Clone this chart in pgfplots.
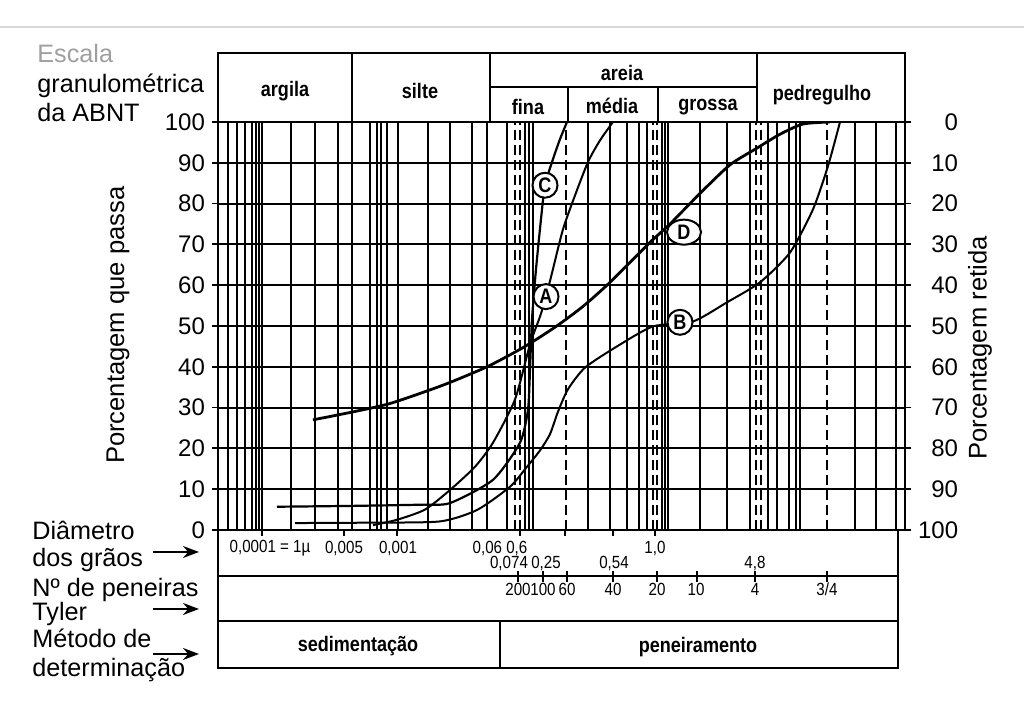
\documentclass[border=0pt]{standalone}
\usepackage{fontspec}
\setmainfont{Liberation Sans}
\newfontfamily\condfont[FakeStretch=0.86]{Liberation Sans}
\usepackage{pgfplots}
\usepackage{pgfplotstable}
\pgfplotsset{compat=1.18}
\usetikzlibrary{shapes.geometric,arrows.meta}

% x = position along the granulometric scale (reference pixel column), y = percent passing
\pgfplotstableread{
x y
373 1.2
397 2.5
425 5
450 9.8
475 15.5
493 21.4
515 32
530 45.5
540 52.3
546 57.2
552 63
563 73.7
575 82
588 90.2
600 95.5
613 100
}\curveA
\pgfplotstableread{
x y
295 1.7
370 1.8
440 2.1
477 4.9
510 10.6
527 15.5
540 19.5
550 23.5
558 29
568 34.5
585 39.8
617 45
653 49.9
693 51.1
727 55.8
760 60.7
790 68
813 78.6
828 89.2
840 100
}\curveB
\pgfplotstableread{
x y
277 5.7
350 5.9
420 6.2
450 6.6
493 12.3
520 21.4
528 29.5
530 39.3
532 51.6
536 63.9
541 76.2
545 84.5
553 90.9
560 95.8
567 100
}\curveC
\pgfplotstableread{
x y
313 27
350 28.8
390 31
443 35.5
487 40
523 44.7
555 49.7
583 54.8
610 60.7
650 70.5
670 75
700 82.5
730 89.5
757 93.6
780 97
803 99.5
830 100
}\curveD

\begin{document}
\begin{tikzpicture}
\useasboundingbox (0pt,0pt) rectangle (512pt,358pt);
\begin{axis}[
  at={(109pt,93pt)}, anchor=south west,
  scale only axis, width=343.5pt, height=204pt,
  xmin=218, xmax=905, ymin=0, ymax=100,
  xtick={228,237,245,252,256,259,262,291,315,338,352,370,377,381,387,398,428,450,472,487,507,525,529,533,588,610,627,639,647,662,665,668,700,727,750,768,777,789,796,800,855,876,896},
  xticklabels={},
  x tick style={draw=none},
  ytick={0,10,...,100},
  y tick style={black, line width=0.9pt},
  tick align=outside, major tick length=3pt,
  grid=major, major grid style={black, line width=0.75pt},
  y grid style={line width=1pt},
  axis line style={black, line width=1pt},
  ticklabel style={font=\fontsize{12}{14}\selectfont},
  /pgf/number format/assume math mode=true,
  ylabel={Porcentagem que passa},
  ylabel style={font=\fontsize{12.8}{15}\selectfont, at={(axis description cs:-0.1456,0.502)}, anchor=center},
  extra x ticks={515,520,566,653,657,756,761,827},
  extra x tick labels={},
  extra x tick style={grid=major, major grid style={black, line width=0.75pt, dash pattern=on 5pt off 2.5pt}, tick style={draw=none}},
]
\addplot[black, line width=1pt, smooth, tension=0.4] table {\curveA};
\addplot[black, line width=1pt, smooth, tension=0.4] table {\curveB};
\addplot[black, line width=1.1pt, smooth, tension=0.4] table {\curveC};
\addplot[black, line width=1.4pt, smooth, tension=0.4] table {\curveD};
\tikzset{lbl/.style={circle, draw, line width=1pt, fill=white, inner sep=0.5pt, minimum size=12.5pt, font=\condfont\bfseries\fontsize{10.5}{11}\selectfont}}
\node[lbl] at (axis cs:545,84.5) {C};
\node[lbl] at (axis cs:546,57.2) {A};
\node[lbl, ellipse, minimum width=17pt, minimum height=12.5pt] at (axis cs:684,73) {D};
\node[lbl] at (axis cs:680,50.9) {B};
\end{axis}
\begin{axis}[
  at={(109pt,93pt)}, anchor=south west,
  scale only axis, width=343.5pt, height=204pt,
  xmin=218, xmax=905, ymin=0, ymax=100, y dir=reverse,
  axis x line=none, axis y line*=right,
  ytick={0,10,...,100},
  y tick style={black, line width=0.9pt},
  tick align=outside, major tick length=3pt,
  axis line style={black, line width=1pt},
  ticklabel style={font=\fontsize{12}{14}\selectfont},
  yticklabel style={text width=20pt, align=right},
  /pgf/number format/assume math mode=true,
]
\end{axis}
\begin{scope}[x=0.5pt, y=-0.5pt, shift={(0pt,358pt)}]
  % scan edge
  \draw[gray!30, line width=0.6pt] (0,27) -- (1024,27);
  % top classification table
  \draw[line width=1pt] (218,53) rectangle (905,122);
  \draw[line width=1pt] (352,53) -- (352,122) (490,53) -- (490,122) (757,53) -- (757,122);
  \draw[line width=1pt] (490,87) -- (757,87) (568,87) -- (568,122) (658,87) -- (658,122);
  \begin{scope}[every node/.style={font=\condfont\bfseries\fontsize{10.5}{12}\selectfont}]
    \node at (285,91) {argila};
    \node at (420,91) {silte};
    \node at (622,73) {areia};
    \node at (528,107) {fina};
    \node at (612,106) {média};
    \node at (708,107) {grossa};
    \node at (822,95) {pedregulho};
  \end{scope}
  % bottom rows
  \draw[line width=1pt] (218,530) -- (218,668) -- (898,668) -- (898,530);
  \draw[line width=1pt] (218,576) -- (898,576) (218,621) -- (898,621) (500,621) -- (500,668);
  \foreach \t in {262,344,397,520,565,613,655} \draw[line width=0.8pt] (\t,530) -- (\t,536);
  \foreach \t in {518,543,567,613,657,697,755,827} \draw[line width=0.8pt] (\t,571) -- (\t,582);
  \begin{scope}[every node/.style={font=\condfont\fontsize{8.8}{10}\selectfont}]
    \node at (270,548) {0,0001 = 1µ};
    \node at (344,548) {0,005};
    \node at (398,548) {0,001};
    \node at (500,548) {0,06 0,6};
    \node at (655,548) {1,0};
    \node at (509,563) {0,074};
    \node at (546,563) {0,25};
    \node at (614,563) {0,54};
    \node at (755,563) {4,8};
    \node at (518,589) {200};
    \node at (543,589) {100};
    \node at (567,589) {60};
    \node at (613,589) {40};
    \node at (657,589) {20};
    \node at (696,589) {10};
    \node at (755,589) {4};
    \node at (827,589) {3/4};
  \end{scope}
  \begin{scope}[every node/.style={font=\condfont\bfseries\fontsize{10.5}{12}\selectfont}]
    \node at (358,646) {sedimentação};
    \node at (698,647) {peneiramento};
  \end{scope}
  % left annotations
  \begin{scope}[every node/.style={font=\fontsize{12.6}{14}\selectfont, anchor=base west, inner sep=0pt}]
    \node[text=gray!75] at (37,63) {Escala};
    \node at (37,93) {granulométrica};
    \node at (37,122) {da ABNT};
    \node at (32,540) {Diâmetro};
    \node at (32,567) {dos grãos};
    \node at (32,597) {Nº de peneiras};
    \node at (32,621) {Tyler};
    \node at (32,648) {Método de};
    \node at (32,677) {determinação};
  \end{scope}
  \draw[line width=1pt, -{Stealth[length=8pt,width=6pt]}] (153,552) -- (199,552);
  \draw[line width=1pt, -{Stealth[length=8pt,width=6pt]}] (153,609) -- (199,609);
  \draw[line width=1pt, -{Stealth[length=8pt,width=6pt]}] (153,654) -- (199,654);
  % right axis title
  \node[rotate=90, font=\fontsize{12.8}{15}\selectfont] at (980,348) {Porcentagem retida};
\end{scope}
\end{tikzpicture}
\end{document}
